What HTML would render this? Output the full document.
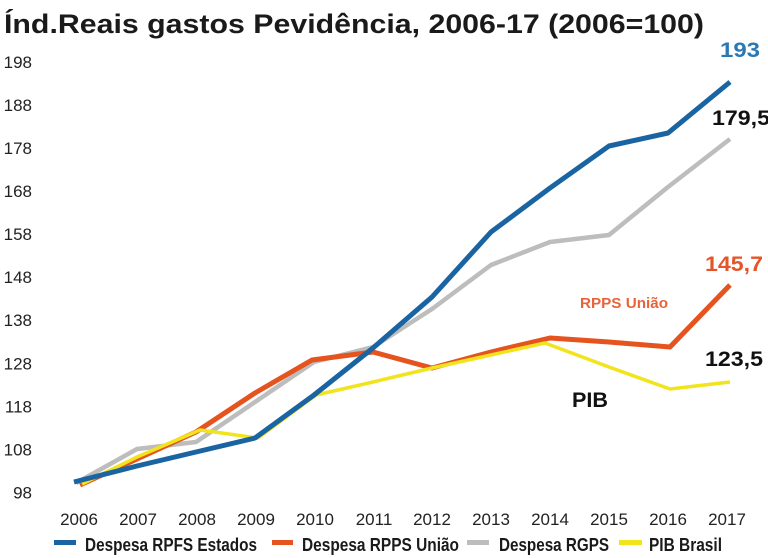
<!DOCTYPE html>
<html>
<head>
<meta charset="utf-8">
<style>
html,body{margin:0;padding:0;background:#fff;}
svg{display:block;}
text{font-family:"Liberation Sans",sans-serif;}
</style>
</head>
<body>
<svg width="768" height="558" viewBox="0 0 768 558" xmlns="http://www.w3.org/2000/svg">
<rect width="768" height="558" fill="#fff"/>
<!-- Title -->
<text x="4" y="33" font-size="27" font-weight="bold" fill="#1a1a1a" textLength="700" lengthAdjust="spacingAndGlyphs">Índ.Reais gastos Pevidência, 2006-17 (2006=100)</text>

<!-- Y axis labels -->
<g font-size="17" fill="#222" text-anchor="end">
<text x="32" y="68">198</text>
<text x="32" y="111">188</text>
<text x="32" y="154">178</text>
<text x="32" y="197">168</text>
<text x="32" y="240">158</text>
<text x="32" y="283">148</text>
<text x="32" y="326">138</text>
<text x="32" y="369.5">128</text>
<text x="32" y="412.5">118</text>
<text x="32" y="455.5">108</text>
<text x="32" y="498.5">98</text>
</g>

<!-- X axis labels -->
<g font-size="17" fill="#222" text-anchor="middle">
<text x="79" y="525">2006</text>
<text x="138" y="525">2007</text>
<text x="197" y="525">2008</text>
<text x="256" y="525">2009</text>
<text x="315" y="525">2010</text>
<text x="374" y="525">2011</text>
<text x="432" y="525">2012</text>
<text x="491" y="525">2013</text>
<text x="550" y="525">2014</text>
<text x="609" y="525">2015</text>
<text x="668" y="525">2016</text>
<text x="727" y="525">2017</text>
</g>

<!-- Series -->
<g fill="none" stroke-linejoin="round" stroke-linecap="butt">
<polyline stroke="#bdbdbd" stroke-width="4.5" points="76,483 137,449 196,442 255,402 314,362 373,347 432,309 491,265 550,242 609,235 668,187 730,139"/>
<polyline stroke="#e5531f" stroke-width="5" points="80,485 137,459 196,432 255,393 312,360 373,352 432,368 491,352 550,338 609,342 670,347 730,285"/>
<polyline stroke="#f2e41c" stroke-width="3.5" points="82,484 137,457 200,430 258,438 316,395 373,382 432,368 491,355 545,343 609,367 670,389 730,382"/>
<polyline stroke="#1a64a2" stroke-width="5" points="74,482 137,466 196,452 255,438 314,395 373,348 432,297 491,232 550,188 609,146 668,133 730,82"/>
</g>

<!-- Annotations -->
<text x="720" y="57" font-size="21" font-weight="bold" fill="#2a78b4" textLength="40" lengthAdjust="spacingAndGlyphs">193</text>
<text x="712" y="125" font-size="21" font-weight="bold" fill="#111" textLength="58" lengthAdjust="spacingAndGlyphs">179,5</text>
<text x="705" y="271" font-size="21" font-weight="bold" fill="#e4552a" textLength="58" lengthAdjust="spacingAndGlyphs">145,7</text>
<text x="580" y="308" font-size="15" font-weight="bold" fill="#e8633a" textLength="88" lengthAdjust="spacingAndGlyphs">RPPS União</text>
<text x="705" y="366" font-size="21" font-weight="bold" fill="#111" textLength="58" lengthAdjust="spacingAndGlyphs">123,5</text>
<text x="572" y="407" font-size="21" font-weight="bold" fill="#111" textLength="36" lengthAdjust="spacingAndGlyphs">PIB</text>

<!-- Legend -->
<rect x="54" y="540" width="22" height="5" fill="#1a64a2"/>
<text x="85" y="551" font-size="18" font-weight="bold" fill="#1a1a1a" textLength="172" lengthAdjust="spacingAndGlyphs">Despesa RPFS Estados</text>
<rect x="272" y="540" width="21" height="5" fill="#e5531f"/>
<text x="302" y="551" font-size="18" font-weight="bold" fill="#1a1a1a" textLength="157" lengthAdjust="spacingAndGlyphs">Despesa RPPS União</text>
<rect x="467" y="540" width="22" height="5" fill="#bdbdbd"/>
<text x="499" y="551" font-size="18" font-weight="bold" fill="#1a1a1a" textLength="110" lengthAdjust="spacingAndGlyphs">Despesa RGPS</text>
<rect x="619" y="540" width="23" height="5" fill="#f2e41c"/>
<text x="649" y="551" font-size="18" font-weight="bold" fill="#1a1a1a" textLength="73" lengthAdjust="spacingAndGlyphs">PIB Brasil</text>
</svg>
</body>
</html>
